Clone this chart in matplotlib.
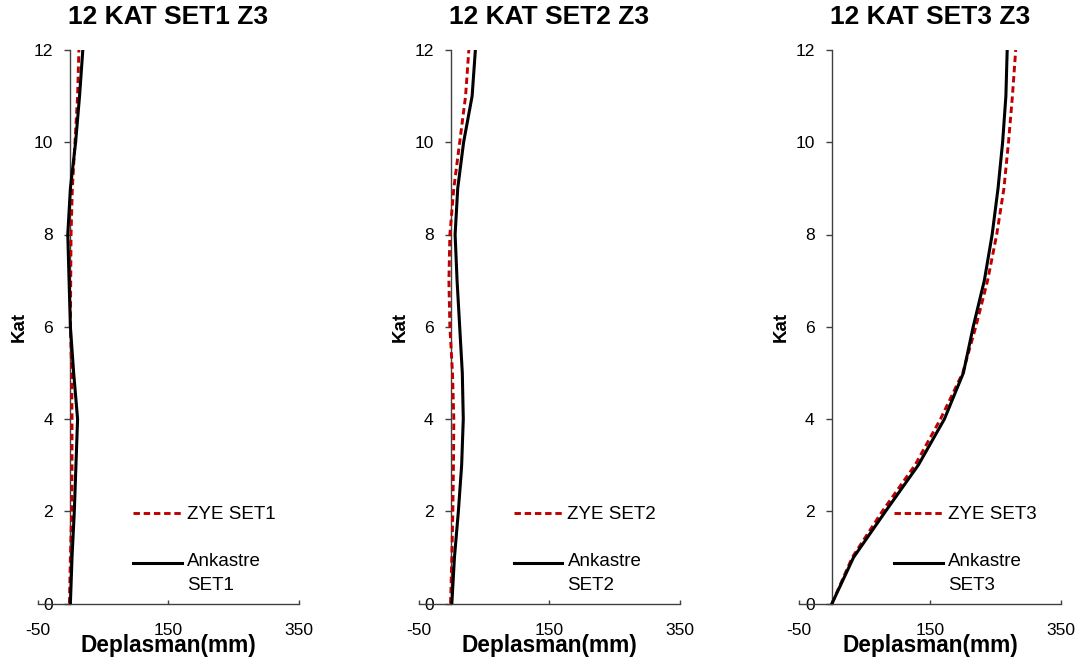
import numpy as np
import matplotlib
matplotlib.use("Agg")
import matplotlib.pyplot as plt
from matplotlib.legend_handler import HandlerLine2D

plt.rcParams['font.family'] = ['Liberation Sans', 'DejaVu Sans']
plt.rcParams['axes.unicode_minus'] = False

floors = [0, 1, 2, 3, 4, 5, 6, 7, 8, 9, 10, 11, 12]

titles = ["12 KAT SET1 Z3", "12 KAT SET2 Z3", "12 KAT SET3 Z3"]
zye_labels = ["ZYE SET1", "ZYE SET2", "ZYE SET3"]
ank_labels = ["Ankastre\nSET1", "Ankastre\nSET2", "Ankastre\nSET3"]

zye_set1 = [-1.5, 0, 2, 2.5, 2.5, 2, 0, 0.5, 1, 3, 7, 11, 13]
ank_set1 = [0, 2.5, 6, 8.5, 11, 5, 0, -2, -4, 0, 8, 14, 19]

zye_set2 = [-1, 1, 2.5, 3.5, 4, 2, -2, -3.5, -2, 4, 13, 22, 27]
ank_set2 = [1, 5, 11, 16, 18.5, 17, 13, 9, 6, 10, 19, 32, 37]

zye_set3 = [0, 31, 77, 127, 166, 200, 220, 238, 252, 263, 270, 276, 281]
ank_set3 = [0, 33, 82, 132, 172, 201, 216, 233, 245, 254, 261, 266, 268]

zye_all = [zye_set1, zye_set2, zye_set3]
ank_all = [ank_set1, ank_set2, ank_set3]

x_ticks = [-50, 150, 350]
y_ticks = [0, 2, 4, 6, 8, 10, 12]

RED = "#C00000"
LEG_FS = 13.5
LINESP = 1.6


class TopLineHandler(HandlerLine2D):
    def create_artists(self, legend, orig_handle, xdescent, ydescent,
                       width, height, fontsize, trans):
        artists = super().create_artists(legend, orig_handle, xdescent, ydescent,
                                         width, height, fontsize, trans)
        shift = 0.5 * LINESP * 0.73 * fontsize
        for a in artists:
            a.set_ydata(np.asarray(a.get_ydata()) + shift)
        return artists


fig = plt.figure(figsize=(10.88, 6.61), dpi=100)
lefts = [37.7, 418.5, 799.3]
W, H = 1088.0, 661.0
ax_w = 261.5 / W
ax_b = 1 - 603.5 / H
ax_h = (603.5 - 50.0) / H

for i in range(3):
    ax = fig.add_axes([lefts[i] / W, ax_b, ax_w, ax_h])
    l1, = ax.plot(zye_all[i], floors, color=RED, lw=2.1, ls=(0, (2.2, 1.3)),
                  label=zye_labels[i], zorder=3)
    l2, = ax.plot(ank_all[i], floors, color="black", lw=2.2,
                  label=ank_labels[i], zorder=4)
    ax.set_xlim(-50, 350)
    ax.set_ylim(0, 12)
    ax.set_xticks(x_ticks)
    ax.set_yticks(y_ticks)
    ax.spines['top'].set_visible(False)
    ax.spines['right'].set_visible(False)
    ax.spines['left'].set_position(('data', 0))
    ax.spines['bottom'].set_position(('data', 0))
    for s in ('left', 'bottom'):
        ax.spines[s].set_linewidth(1.0)
        ax.spines[s].set_color('#404040')
    ax.tick_params(axis='x', direction='in', length=2.7, width=1.0,
                   color='#404040', labelsize=12.6, pad=14)
    ax.tick_params(axis='y', direction='out', length=4.0, width=1.0,
                   color='#404040', labelsize=12.6, pad=8.5)
    ax.set_title(titles[i], fontsize=19, fontweight='bold', pad=19)
    ax.set_xlabel("Deplasman(mm)", fontsize=16.3, fontweight='bold')
    ax.xaxis.set_label_coords(0.5, -0.055)
    ax.set_ylabel("Kat", fontsize=13.5, fontweight='bold')
    ax.yaxis.set_label_coords(-0.037, 0.5)
    leg = ax.legend(handles=[l1, l2], loc='upper left',
                    bbox_to_anchor=(0.364, 0.176), frameon=False,
                    fontsize=LEG_FS, handlelength=2.6, handletextpad=0.27,
                    labelspacing=1.57, borderpad=0, borderaxespad=0,
                    handler_map={l2: TopLineHandler()})
    for t in leg.get_texts():
        t.set_linespacing(LINESP)

fig.savefig("out.png", dpi=100)
